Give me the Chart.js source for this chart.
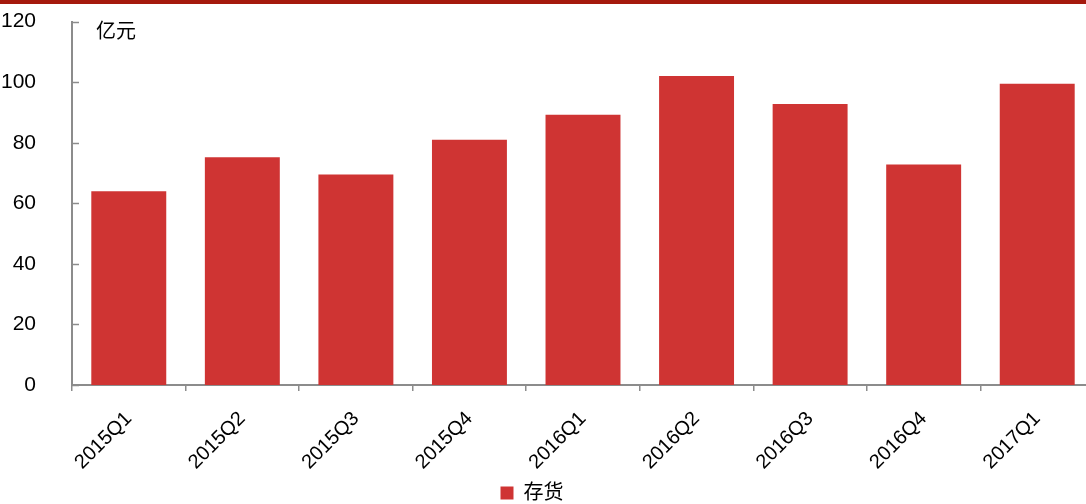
<!DOCTYPE html>
<html>
<head>
<meta charset="utf-8">
<script src="https://cdn.jsdelivr.net/npm/chart.js@4/dist/chart.umd.min.js"></script>
<style>
  html, body { margin: 0; padding: 0; background: #fff; overflow: hidden; }
  #topbar { position: absolute; left: 0; top: 0; width: 1086px; height: 4px; background: #a5190d; }
  #wrap { position: absolute; left: 0; top: -19px; width: 1094px; height: 532px; }
</style>
</head>
<body>
<div id="wrap"><canvas id="myChart" width="1094" height="532"></canvas></div>
<div id="topbar"></div>
<script>
const quarters = ['2015Q1', '2015Q2', '2015Q3', '2015Q4', '2016Q1', '2016Q2', '2016Q3', '2016Q4', '2017Q1'];
const inventory = [64, 75.2, 69.5, 81, 89.2, 102, 92.8, 72.8, 99.5];
const seriesName = '存货';
const unitLabel = '亿元';

const fontFamily = '"Liberation Sans", Arial, "Noto Sans CJK SC", sans-serif';
const axisColor = '#8c8c8c';

// y ticks point inward, plus the unit text inside the plot
const extras = {
    id: 'extras',
    afterLayout(chart) {
        // legend sits a bit left of canvas center in the original
        chart.legend.right -= 30;
    },
    afterDraw(chart) {
        const ctx = chart.ctx;
        const y = chart.scales.y;
        const left = chart.chartArea.left;
        ctx.save();
        ctx.strokeStyle = axisColor;
        ctx.lineWidth = 1.5;
        y.ticks.forEach(t => {
            const py = Math.round(y.getPixelForValue(t.value)) + 0.5;
            ctx.beginPath();
            ctx.moveTo(left, py);
            ctx.lineTo(left + 7, py);
            ctx.stroke();
        });
        ctx.fillStyle = '#000';
        ctx.font = '20px ' + fontFamily;
        ctx.textBaseline = 'middle';
        ctx.fillText(unitLabel, left + 24, chart.chartArea.top + 11);
        ctx.restore();
    }
};

const ctx = document.getElementById('myChart').getContext('2d');
new Chart(ctx, {
    type: 'bar',
    data: {
        labels: quarters,
        datasets: [{
            label: seriesName,
            data: inventory,
            backgroundColor: '#cf3433',
            barPercentage: 0.66,
            categoryPercentage: 1
        }]
    },
    options: {
        responsive: false,
        animation: false,
        layout: { padding: { top: 10, left: 0, right: 0, bottom: 0 } },
        scales: {
            x: {
                grid: { display: true, drawOnChartArea: false, drawTicks: true, tickLength: 6, color: axisColor, lineWidth: 1.5, offset: true },
                border: { display: true, color: axisColor, width: 2 },
                ticks: { color: '#000', font: { size: 20, family: fontFamily }, maxRotation: 45, minRotation: 45, padding: 16 },
                afterFit(scale) { scale.height = 94; }
            },
            y: {
                min: 0,
                max: 120,
                grid: { display: false },
                border: { display: true, color: axisColor, width: 2 },
                ticks: { stepSize: 20, color: '#000', font: { size: 21, family: fontFamily }, padding: 28 },
                afterFit(scale) { scale.width = 72; }
            }
        },
        plugins: {
            legend: {
                position: 'bottom',
                labels: { boxWidth: 13, boxHeight: 13, color: '#000', font: { size: 20, family: fontFamily }, padding: 4 }
            },
            tooltip: { enabled: false }
        }
    },
    plugins: [extras]
});
</script>
</body>
</html>
